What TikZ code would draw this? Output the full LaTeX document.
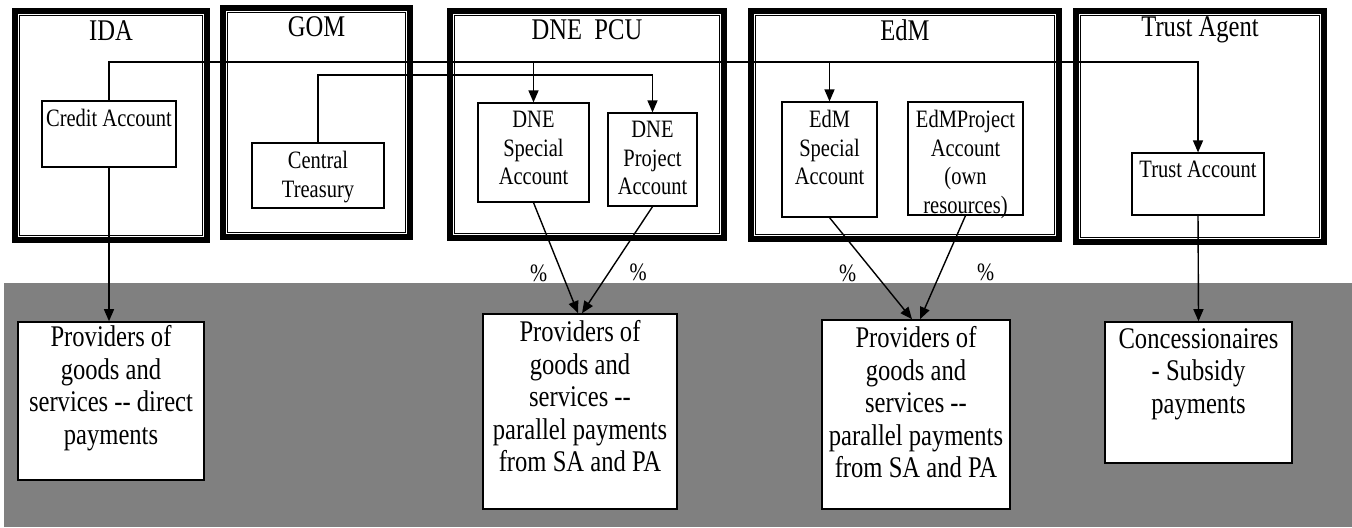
\documentclass[tikz,border=0pt]{standalone}
\usepackage{fontspec}
\setmainfont{Liberation Serif}[FakeStretch=0.82]
\usetikzlibrary{positioning,fit,arrows.meta}
\newcommand{\smallfnt}{\fontsize{12.5}{14.25}\selectfont}
\newcommand{\bigfnt}{\fontsize{15}{16.25}\selectfont}
\begin{document}
\begin{tikzpicture}[x=0.5pt,y=-0.5pt,
	grp/.style={draw,line width=2.8pt,inner sep=0pt},
	grpin/.style={draw,line width=0.7pt},
	acct/.style={draw,fill=white,line width=0.6pt,inner sep=0pt},
	payee/.style={draw,fill=white,line width=0.8pt,inner sep=0pt},
	acctxt/.style={font=\smallfnt,align=center,inner sep=0pt,anchor=north},
	payeetxt/.style={font=\bigfnt,align=center,inner sep=0pt,anchor=north},
	grptxt/.style={font=\bigfnt,inner sep=0pt},
	flow/.style={-{Triangle[length=6pt,width=5pt]},line width=0.7pt},
	pct/.style={font=\smallfnt,inner sep=0pt}]
		\useasboundingbox (0,0) rectangle (1352,527);
		\fill[gray] (4,283) rectangle (1352,527);
		\node[grp,fit={(15,11) (207,240)}] (ida) {};
		\node[grp,fit={(223,8) (410,237)}] (gom) {};
		\node[grp,fit={(450,11) (724,238)}] (pcu) {};
		\node[grp,fit={(751,11) (1059,239)}] (edm) {};
		\node[grp,fit={(1076,11) (1324,242)}] (trust) {};
		\foreach \g in {ida,gom,pcu,edm,trust}
			\draw[grpin] ([xshift=3.6pt,yshift=-3.6pt]\g.north west) rectangle ([xshift=-3.6pt,yshift=3.6pt]\g.south east);
		\node[grptxt] (idat) at ([yshift=-11pt]ida.north) {IDA};
		\node[grptxt] (gomt) at ([yshift=-11pt]gom.north) {GOM};
		\node[grptxt] (pcut) at ([yshift=-11pt]pcu.north) {DNE\ \ PCU};
		\node[grptxt] (edmt) at ([yshift=-11pt]edm.north) {EdM};
		\node[grptxt] (trustt) at ([yshift=-11pt]trust.north) {Trust Agent};
		\node[acct,fit={(42,101) (176,167)}] (credit) {};
		\node[acctxt] (creditt) at ([yshift=-4.2pt]credit.north) {Credit Account};
		\node[acct,fit={(252,143) (384,208)}] (treasury) {};
		\node[acctxt] (treasuryt) at ([yshift=-4.2pt]treasury.north) {Central\\Treasury};
		\node[acct,fit={(478,103) (589,202)}] (dnesa) {};
		\node[acctxt] (dnesat) at ([yshift=-4.2pt]dnesa.north) {DNE\\Special\\Account};
		\node[acct,fit={(608,113) (697,206)}] (dnepa) {};
		\node[acctxt] (dnepat) at ([yshift=-4.2pt]dnepa.north) {DNE\\Project\\Account};
		\node[acct,fit={(782,102) (877,217)}] (edmsa) {};
		\node[acctxt] (edmsat) at ([yshift=-4.2pt]edmsa.north) {EdM\\Special\\Account};
		\node[acct,fit={(908,102) (1023,215)}] (edmpa) {};
		\node[acctxt] (edmpat) at ([yshift=-4.2pt]edmpa.north) {EdMProject\\Account\\(own\\resources)};
		\node[acct,fit={(1132,153) (1264,215)}] (trustacc) {};
		\node[acctxt] (trustacct) at ([yshift=-4.2pt]trustacc.north) {Trust Account};
		\node[payee,fit={(18,322) (204,480)}] (prov1) {};
		\node[payeetxt] (prov1t) at ([yshift=-2pt]prov1.north) {Providers of\\goods and\\services -{}- direct\\payments};
		\node[payee,fit={(483,314) (677,509)}] (prov2) {};
		\node[payeetxt] (prov2t) at ([yshift=-3.5pt]prov2.north) {Providers of\\goods and\\services -{}-\\parallel payments\\from SA and PA};
		\node[payee,fit={(822,320) (1010,509)}] (prov3) {};
		\node[payeetxt] (prov3t) at ([yshift=-3.5pt]prov3.north) {Providers of\\goods and\\services -{}-\\parallel payments\\from SA and PA};
		\node[payee,fit={(1105,322) (1292,463)}] (conc) {};
		\node[payeetxt] (conct) at ([yshift=-3.5pt]conc.north) {Concessionaires\\- Subsidy\\payments};
		\coordinate (busa) at (109,62);
		\coordinate (busb) at (318,75);
		\draw[flow] (credit.north) -- (busa) -| (trustacc.north);
		\draw[flow] (dnesa.north |- busa) -- (dnesa.north);
		\draw[flow] (edmsa.north |- busa) -- (edmsa.north);
		\draw[flow] (treasury.north) -- (busb) -| (dnepa.north);
		\draw[flow] (credit.south) -- (credit.south |- prov1.north);
		\draw[flow] (trustacc.south) -- (conc.north);
		\draw[flow] (dnesa.south) -- node[pct,pos=.64,left=7pt] (pcta) {\%} ([xshift=-1pt]prov2.north);
		\draw[flow] (dnepa.south) -- node[pct,pos=.62,right=10pt] (pctb) {\%} ([xshift=1pt]prov2.north);
		\draw[flow] (edmsa.south) -- node[pct,pos=.55,left=9pt] (pctc) {\%} ([xshift=-2pt]prov3.north);
		\draw[flow] (edmpa.south) -- node[pct,pos=.55,right=18pt] (pctd) {\%} ([xshift=2pt]prov3.north);
	\end{tikzpicture}
\end{document}
